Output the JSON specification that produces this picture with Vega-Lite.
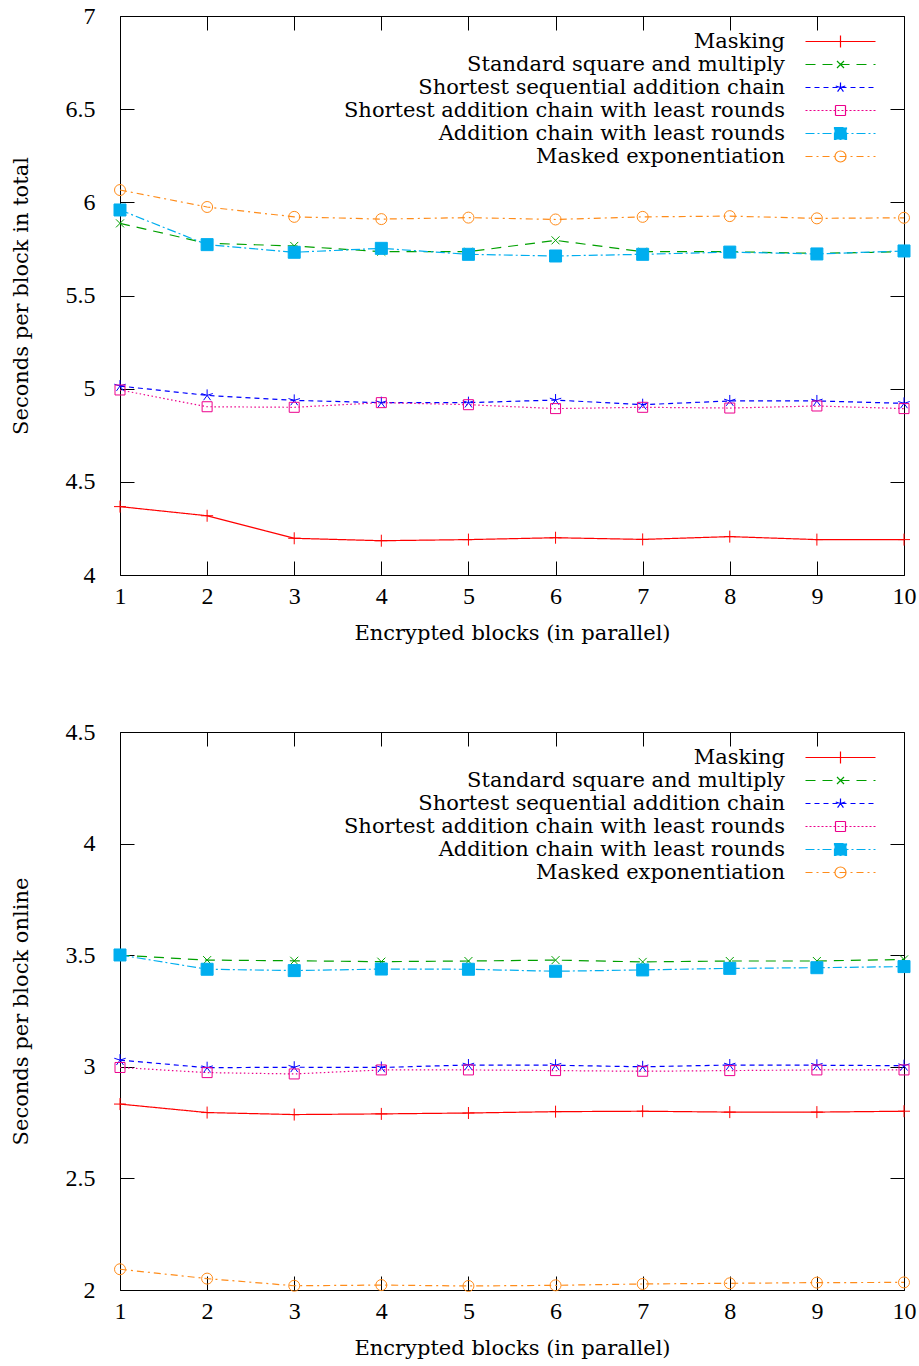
{
  "$schema": "https://vega.github.io/schema/vega-lite/v6.json",
  "padding": {"left": 9, "top": 3, "right": 0, "bottom": 0},
  "config": {
    "font": "DejaVu Serif",
    "view": {"stroke": "black", "strokeWidth": 1},
    "axis": {
      "labelFont": "Liberation Serif", "labelFontSize": 24, "labelColor": "black",
      "titleFont": "DejaVu Serif", "titleFontSize": 21, "titleFontWeight": "normal", "titleColor": "black",
      "tickColor": "black", "tickWidth": 1, "tickSize": -14, "domain": false, "grid": false,
      "labelFlush": false, "labelOverlap": false
    },
    "legend": {
      "orient": "none", "legendX": 710, "legendY": 15, "title": null, "padding": 0,
      "labelAlign": "right", "labelOffset": -66, "labelFont": "DejaVu Serif", "labelFontSize": 21, "labelColor": "black", "labelLimit": 0,
      "rowPadding": 1, "symbolSize": 4, "symbolStrokeWidth": 1.2
    }
  },
  "datasets": {
    "total": [
      {"blocks":1,"method":"Masking","seconds":4.367},{"blocks":2,"method":"Masking","seconds":4.318},{"blocks":3,"method":"Masking","seconds":4.197},{"blocks":4,"method":"Masking","seconds":4.184},{"blocks":5,"method":"Masking","seconds":4.190},{"blocks":6,"method":"Masking","seconds":4.200},{"blocks":7,"method":"Masking","seconds":4.191},{"blocks":8,"method":"Masking","seconds":4.206},{"blocks":9,"method":"Masking","seconds":4.190},{"blocks":10,"method":"Masking","seconds":4.190},
      {"blocks":1,"method":"Standard square and multiply","seconds":5.887},{"blocks":2,"method":"Standard square and multiply","seconds":5.780},{"blocks":3,"method":"Standard square and multiply","seconds":5.766},{"blocks":4,"method":"Standard square and multiply","seconds":5.735},{"blocks":5,"method":"Standard square and multiply","seconds":5.735},{"blocks":6,"method":"Standard square and multiply","seconds":5.796},{"blocks":7,"method":"Standard square and multiply","seconds":5.735},{"blocks":8,"method":"Standard square and multiply","seconds":5.735},{"blocks":9,"method":"Standard square and multiply","seconds":5.726},{"blocks":10,"method":"Standard square and multiply","seconds":5.735},
      {"blocks":1,"method":"Shortest sequential addition chain","seconds":5.014},{"blocks":2,"method":"Shortest sequential addition chain","seconds":4.964},{"blocks":3,"method":"Shortest sequential addition chain","seconds":4.937},{"blocks":4,"method":"Shortest sequential addition chain","seconds":4.925},{"blocks":5,"method":"Shortest sequential addition chain","seconds":4.925},{"blocks":6,"method":"Shortest sequential addition chain","seconds":4.939},{"blocks":7,"method":"Shortest sequential addition chain","seconds":4.914},{"blocks":8,"method":"Shortest sequential addition chain","seconds":4.934},{"blocks":9,"method":"Shortest sequential addition chain","seconds":4.934},{"blocks":10,"method":"Shortest sequential addition chain","seconds":4.921},
      {"blocks":1,"method":"Shortest addition chain with least rounds","seconds":4.993},{"blocks":2,"method":"Shortest addition chain with least rounds","seconds":4.903},{"blocks":3,"method":"Shortest addition chain with least rounds","seconds":4.900},{"blocks":4,"method":"Shortest addition chain with least rounds","seconds":4.925},{"blocks":5,"method":"Shortest addition chain with least rounds","seconds":4.914},{"blocks":6,"method":"Shortest addition chain with least rounds","seconds":4.893},{"blocks":7,"method":"Shortest addition chain with least rounds","seconds":4.900},{"blocks":8,"method":"Shortest addition chain with least rounds","seconds":4.896},{"blocks":9,"method":"Shortest addition chain with least rounds","seconds":4.907},{"blocks":10,"method":"Shortest addition chain with least rounds","seconds":4.893},
      {"blocks":1,"method":"Addition chain with least rounds","seconds":5.959},{"blocks":2,"method":"Addition chain with least rounds","seconds":5.773},{"blocks":3,"method":"Addition chain with least rounds","seconds":5.732},{"blocks":4,"method":"Addition chain with least rounds","seconds":5.753},{"blocks":5,"method":"Addition chain with least rounds","seconds":5.721},{"blocks":6,"method":"Addition chain with least rounds","seconds":5.712},{"blocks":7,"method":"Addition chain with least rounds","seconds":5.721},{"blocks":8,"method":"Addition chain with least rounds","seconds":5.733},{"blocks":9,"method":"Addition chain with least rounds","seconds":5.723},{"blocks":10,"method":"Addition chain with least rounds","seconds":5.739},
      {"blocks":1,"method":"Masked exponentiation","seconds":6.066},{"blocks":2,"method":"Masked exponentiation","seconds":5.975},{"blocks":3,"method":"Masked exponentiation","seconds":5.922},{"blocks":4,"method":"Masked exponentiation","seconds":5.910},{"blocks":5,"method":"Masked exponentiation","seconds":5.918},{"blocks":6,"method":"Masked exponentiation","seconds":5.908},{"blocks":7,"method":"Masked exponentiation","seconds":5.922},{"blocks":8,"method":"Masked exponentiation","seconds":5.926},{"blocks":9,"method":"Masked exponentiation","seconds":5.914},{"blocks":10,"method":"Masked exponentiation","seconds":5.917}
    ],
    "online": [
      {"blocks":1,"method":"Masking","seconds":2.833},{"blocks":2,"method":"Masking","seconds":2.795},{"blocks":3,"method":"Masking","seconds":2.786},{"blocks":4,"method":"Masking","seconds":2.789},{"blocks":5,"method":"Masking","seconds":2.793},{"blocks":6,"method":"Masking","seconds":2.799},{"blocks":7,"method":"Masking","seconds":2.801},{"blocks":8,"method":"Masking","seconds":2.797},{"blocks":9,"method":"Masking","seconds":2.797},{"blocks":10,"method":"Masking","seconds":2.801},
      {"blocks":1,"method":"Standard square and multiply","seconds":3.500},{"blocks":2,"method":"Standard square and multiply","seconds":3.478},{"blocks":3,"method":"Standard square and multiply","seconds":3.475},{"blocks":4,"method":"Standard square and multiply","seconds":3.471},{"blocks":5,"method":"Standard square and multiply","seconds":3.474},{"blocks":6,"method":"Standard square and multiply","seconds":3.478},{"blocks":7,"method":"Standard square and multiply","seconds":3.470},{"blocks":8,"method":"Standard square and multiply","seconds":3.474},{"blocks":9,"method":"Standard square and multiply","seconds":3.474},{"blocks":10,"method":"Standard square and multiply","seconds":3.481},
      {"blocks":1,"method":"Shortest sequential addition chain","seconds":3.030},{"blocks":2,"method":"Shortest sequential addition chain","seconds":2.996},{"blocks":3,"method":"Shortest sequential addition chain","seconds":2.998},{"blocks":4,"method":"Shortest sequential addition chain","seconds":2.997},{"blocks":5,"method":"Shortest sequential addition chain","seconds":3.008},{"blocks":6,"method":"Shortest sequential addition chain","seconds":3.007},{"blocks":7,"method":"Shortest sequential addition chain","seconds":3.000},{"blocks":8,"method":"Shortest sequential addition chain","seconds":3.008},{"blocks":9,"method":"Shortest sequential addition chain","seconds":3.007},{"blocks":10,"method":"Shortest sequential addition chain","seconds":3.005},
      {"blocks":1,"method":"Shortest addition chain with least rounds","seconds":2.997},{"blocks":2,"method":"Shortest addition chain with least rounds","seconds":2.974},{"blocks":3,"method":"Shortest addition chain with least rounds","seconds":2.968},{"blocks":4,"method":"Shortest addition chain with least rounds","seconds":2.986},{"blocks":5,"method":"Shortest addition chain with least rounds","seconds":2.986},{"blocks":6,"method":"Shortest addition chain with least rounds","seconds":2.983},{"blocks":7,"method":"Shortest addition chain with least rounds","seconds":2.980},{"blocks":8,"method":"Shortest addition chain with least rounds","seconds":2.983},{"blocks":9,"method":"Shortest addition chain with least rounds","seconds":2.986},{"blocks":10,"method":"Shortest addition chain with least rounds","seconds":2.986},
      {"blocks":1,"method":"Addition chain with least rounds","seconds":3.501},{"blocks":2,"method":"Addition chain with least rounds","seconds":3.437},{"blocks":3,"method":"Addition chain with least rounds","seconds":3.431},{"blocks":4,"method":"Addition chain with least rounds","seconds":3.438},{"blocks":5,"method":"Addition chain with least rounds","seconds":3.437},{"blocks":6,"method":"Addition chain with least rounds","seconds":3.428},{"blocks":7,"method":"Addition chain with least rounds","seconds":3.434},{"blocks":8,"method":"Addition chain with least rounds","seconds":3.441},{"blocks":9,"method":"Addition chain with least rounds","seconds":3.444},{"blocks":10,"method":"Addition chain with least rounds","seconds":3.449},
      {"blocks":1,"method":"Masked exponentiation","seconds":2.093},{"blocks":2,"method":"Masked exponentiation","seconds":2.051},{"blocks":3,"method":"Masked exponentiation","seconds":2.019},{"blocks":4,"method":"Masked exponentiation","seconds":2.022},{"blocks":5,"method":"Masked exponentiation","seconds":2.018},{"blocks":6,"method":"Masked exponentiation","seconds":2.021},{"blocks":7,"method":"Masked exponentiation","seconds":2.027},{"blocks":8,"method":"Masked exponentiation","seconds":2.030},{"blocks":9,"method":"Masked exponentiation","seconds":2.033},{"blocks":10,"method":"Masked exponentiation","seconds":2.034}
    ]
  },
  "spacing": 157,
  "bounds": "flush",
  "resolve": {
    "scale": {"stroke": "independent", "fill": "independent", "shape": "independent", "strokeDash": "independent"},
    "legend": {"stroke": "independent"}
  },
  "vconcat": [
    {
      "width": 784, "height": 559,
      "data": {"name": "total"},
      "resolve": {"axis": {"x": "independent", "y": "independent"}},
      "layer": [
        {
          "mark": {"type": "line", "strokeWidth": 1.2},
          "encoding": {
            "x": {"field": "blocks", "type": "quantitative", "scale": {"domain": [1, 10], "nice": false, "zero": false},
              "axis": {"values": [1,2,3,4,5,6,7,8,9,10], "format": "d", "title": "Encrypted blocks (in parallel)", "labelPadding": 23, "titlePadding": 14}},
            "y": {"field": "seconds", "type": "quantitative", "scale": {"domain": [4, 7], "nice": false, "zero": false},
              "axis": {"values": [4,4.5,5,5.5,6,6.5,7], "format": "~g", "title": "Seconds per block in total", "labelPadding": 39, "titlePadding": 34}},
            "stroke": {"field": "method", "type": "nominal",
              "scale": {"domain": ["Masking","Standard square and multiply","Shortest sequential addition chain","Shortest addition chain with least rounds","Addition chain with least rounds","Masked exponentiation"],
                        "range": ["#ff0000","#00a000","#0000ff","#ec008c","#00aeef","#ff8c1a"]},
              "legend": {
                "encode": {"symbols": {"update": {
                  "size": {"value": 4},
                  "strokeWidth": {"value": 1.2},
                  "opacity": {"value": 1},
                  "shape": {"signal": "datum.value === 'Masking' ? 'M-35,0H35M0,-6V6' : datum.value === 'Standard square and multiply' ? 'M-35,0H35M0,0L3.5,3.5M0,0L-3.5,-3.5M0,0L3.5,-3.5M0,0L-3.5,3.5' : datum.value === 'Shortest sequential addition chain' ? 'M-35,0H35M0,0L0,-5M0,0L4.75,-1.55M0,0L-4.75,-1.55M0,0L-2.94,4.05M0,0L2.94,4.05' : datum.value === 'Shortest addition chain with least rounds' ? 'M-35,0H35M-5,-5h2M-3,-5h2M-1,-5h2M1,-5h2M3,-5h2M5,-5v2M5,-3v2M5,-1v2M5,1v2M5,3v2M5,5h-2M3,5h-2M1,5h-2M-1,5h-2M-3,5h-2M-5,5v-2M-5,3v-2M-5,1v-2M-5,-1v-2M-5,-3v-2' : datum.value === 'Addition chain with least rounds' ? 'M-35,0H35M-6,-6H6V6H-6Z' : 'M-35,0H35M5.5,0A5.5,5.5 0 0 1 3.89,3.89M3.89,3.89A5.5,5.5 0 0 1 0,5.5M0,5.5A5.5,5.5 0 0 1 -3.89,3.89M-3.89,3.89A5.5,5.5 0 0 1 -5.5,0M-5.5,0A5.5,5.5 0 0 1 -3.89,-3.89M-3.89,-3.89A5.5,5.5 0 0 1 0,-5.5M0,-5.5A5.5,5.5 0 0 1 3.89,-3.89M3.89,-3.89A5.5,5.5 0 0 1 5.5,0'"},
                  "strokeDash": {"signal": "datum.value === 'Masking' ? [1,0] : datum.value === 'Standard square and multiply' ? [10,7] : datum.value === 'Shortest sequential addition chain' ? [5,4] : datum.value === 'Shortest addition chain with least rounds' ? [2,2] : datum.value === 'Addition chain with least rounds' ? [9,3,2,3] : [7,4,2,4]"},
                  "fill": {"signal": "datum.value === 'Addition chain with least rounds' ? '#00aeef' : 'transparent'"}
                }}}
              }},
            "strokeDash": {"field": "method", "type": "nominal",
              "scale": {"domain": ["Masked exponentiation","Addition chain with least rounds","Shortest addition chain with least rounds","Shortest sequential addition chain","Standard square and multiply","Masking"],
                        "range": [[7,4,2,4],[9,3,2,3],[1.5,2.5],[5,4],[10,7],[1,0]]},
              "legend": null}
          }
        },
        {
          "mark": {"type": "point", "size": 4, "strokeWidth": 1, "opacity": 1},
          "encoding": {
            "x": {"field": "blocks", "type": "quantitative", "axis": {"orient": "top", "values": [1,2,3,4,5,6,7,8,9,10], "labels": false, "title": null}},
            "y": {"field": "seconds", "type": "quantitative", "axis": {"orient": "right", "values": [4,4.5,5,5.5,6,6.5,7], "labels": false, "title": null}},
            "stroke": {"field": "method", "type": "nominal"},
            "fill": {"field": "method", "type": "nominal",
              "scale": {"domain": ["Masked exponentiation","Addition chain with least rounds","Shortest addition chain with least rounds","Shortest sequential addition chain","Standard square and multiply","Masking"],
                        "range": ["transparent","#00aeef","transparent","transparent","transparent","transparent"]},
              "legend": null},
            "shape": {"field": "method", "type": "nominal",
              "scale": {"domain": ["Masked exponentiation","Addition chain with least rounds","Shortest addition chain with least rounds","Shortest sequential addition chain","Standard square and multiply","Masking"],
                        "range": ["M5.5,0A5.5,5.5 0 1 1 -5.5,0A5.5,5.5 0 1 1 5.5,0Z","M-6,-6H6V6H-6Z","M-5,-5H5V5H-5Z","M0,0L0,-6M0,0L5.71,-1.85M0,0L-5.71,-1.85M0,0L-3.53,4.85M0,0L3.53,4.85","M-4,-4L4,4M-4,4L4,-4","M-6,0H6M0,-6V6"]},
              "legend": null}
          }
        }
      ]
    },
    {
      "width": 784, "height": 558,
      "data": {"name": "online"},
      "resolve": {"axis": {"x": "independent", "y": "independent"}},
      "layer": [
        {
          "mark": {"type": "line", "strokeWidth": 1.2},
          "encoding": {
            "x": {"field": "blocks", "type": "quantitative", "scale": {"domain": [1, 10], "nice": false, "zero": false},
              "axis": {"values": [1,2,3,4,5,6,7,8,9,10], "format": "d", "title": "Encrypted blocks (in parallel)", "labelPadding": 23, "titlePadding": 14}},
            "y": {"field": "seconds", "type": "quantitative", "scale": {"domain": [2, 4.5], "nice": false, "zero": false},
              "axis": {"values": [2,2.5,3,3.5,4,4.5], "format": "~g", "title": "Seconds per block online", "labelPadding": 39, "titlePadding": 34}},
            "stroke": {"field": "method", "type": "nominal",
              "scale": {"domain": ["Masking","Standard square and multiply","Shortest sequential addition chain","Shortest addition chain with least rounds","Addition chain with least rounds","Masked exponentiation"],
                        "range": ["#ff0000","#00a000","#0000ff","#ec008c","#00aeef","#ff8c1a"]},
              "legend": {
                "encode": {"symbols": {"update": {
                  "size": {"value": 4},
                  "strokeWidth": {"value": 1.2},
                  "opacity": {"value": 1},
                  "shape": {"signal": "datum.value === 'Masking' ? 'M-35,0H35M0,-6V6' : datum.value === 'Standard square and multiply' ? 'M-35,0H35M0,0L3.5,3.5M0,0L-3.5,-3.5M0,0L3.5,-3.5M0,0L-3.5,3.5' : datum.value === 'Shortest sequential addition chain' ? 'M-35,0H35M0,0L0,-5M0,0L4.75,-1.55M0,0L-4.75,-1.55M0,0L-2.94,4.05M0,0L2.94,4.05' : datum.value === 'Shortest addition chain with least rounds' ? 'M-35,0H35M-5,-5h2M-3,-5h2M-1,-5h2M1,-5h2M3,-5h2M5,-5v2M5,-3v2M5,-1v2M5,1v2M5,3v2M5,5h-2M3,5h-2M1,5h-2M-1,5h-2M-3,5h-2M-5,5v-2M-5,3v-2M-5,1v-2M-5,-1v-2M-5,-3v-2' : datum.value === 'Addition chain with least rounds' ? 'M-35,0H35M-6,-6H6V6H-6Z' : 'M-35,0H35M5.5,0A5.5,5.5 0 0 1 3.89,3.89M3.89,3.89A5.5,5.5 0 0 1 0,5.5M0,5.5A5.5,5.5 0 0 1 -3.89,3.89M-3.89,3.89A5.5,5.5 0 0 1 -5.5,0M-5.5,0A5.5,5.5 0 0 1 -3.89,-3.89M-3.89,-3.89A5.5,5.5 0 0 1 0,-5.5M0,-5.5A5.5,5.5 0 0 1 3.89,-3.89M3.89,-3.89A5.5,5.5 0 0 1 5.5,0'"},
                  "strokeDash": {"signal": "datum.value === 'Masking' ? [1,0] : datum.value === 'Standard square and multiply' ? [10,7] : datum.value === 'Shortest sequential addition chain' ? [5,4] : datum.value === 'Shortest addition chain with least rounds' ? [2,2] : datum.value === 'Addition chain with least rounds' ? [9,3,2,3] : [7,4,2,4]"},
                  "fill": {"signal": "datum.value === 'Addition chain with least rounds' ? '#00aeef' : 'transparent'"}
                }}}
              }},
            "strokeDash": {"field": "method", "type": "nominal",
              "scale": {"domain": ["Masked exponentiation","Addition chain with least rounds","Shortest addition chain with least rounds","Shortest sequential addition chain","Standard square and multiply","Masking"],
                        "range": [[7,4,2,4],[9,3,2,3],[1.5,2.5],[5,4],[10,7],[1,0]]},
              "legend": null}
          }
        },
        {
          "mark": {"type": "point", "size": 4, "strokeWidth": 1, "opacity": 1},
          "encoding": {
            "x": {"field": "blocks", "type": "quantitative", "axis": {"orient": "top", "values": [1,2,3,4,5,6,7,8,9,10], "labels": false, "title": null}},
            "y": {"field": "seconds", "type": "quantitative", "axis": {"orient": "right", "values": [2,2.5,3,3.5,4,4.5], "labels": false, "title": null}},
            "stroke": {"field": "method", "type": "nominal"},
            "fill": {"field": "method", "type": "nominal",
              "scale": {"domain": ["Masked exponentiation","Addition chain with least rounds","Shortest addition chain with least rounds","Shortest sequential addition chain","Standard square and multiply","Masking"],
                        "range": ["transparent","#00aeef","transparent","transparent","transparent","transparent"]},
              "legend": null},
            "shape": {"field": "method", "type": "nominal",
              "scale": {"domain": ["Masked exponentiation","Addition chain with least rounds","Shortest addition chain with least rounds","Shortest sequential addition chain","Standard square and multiply","Masking"],
                        "range": ["M5.5,0A5.5,5.5 0 1 1 -5.5,0A5.5,5.5 0 1 1 5.5,0Z","M-6,-6H6V6H-6Z","M-5,-5H5V5H-5Z","M0,0L0,-6M0,0L5.71,-1.85M0,0L-5.71,-1.85M0,0L-3.53,4.85M0,0L3.53,4.85","M-4,-4L4,4M-4,4L4,-4","M-6,0H6M0,-6V6"]},
              "legend": null}
          }
        }
      ]
    }
  ]
}
